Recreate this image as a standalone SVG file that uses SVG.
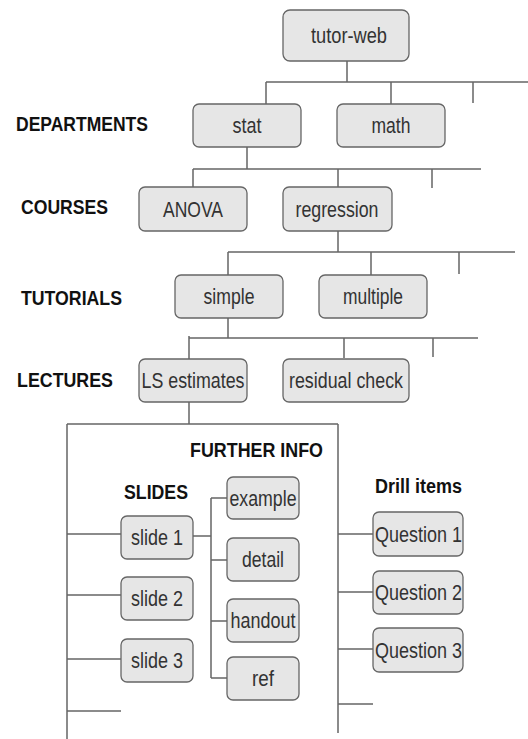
<svg xmlns="http://www.w3.org/2000/svg" width="528" height="739" viewBox="0 0 528 739">
<style>
.bg{fill:#ffffff}
.box{fill:#e6e6e6;stroke:#666666;stroke-width:1.3}
.t{font-family:"Liberation Sans",Arial,sans-serif;font-size:21.5px;fill:#333333;text-anchor:middle}
.lab{font-family:"Liberation Sans",Arial,sans-serif;font-size:19.5px;font-weight:bold;fill:#111111}
.ln{stroke:#666666;stroke-width:1.5;fill:none}
</style>
<rect class="bg" x="0" y="0" width="528" height="739"/>
<g id="connectors">
<path class="ln" d="M347 61V82M266 82H528M266 82V104M391 82V104M473 82V103"/>
<path class="ln" d="M247 147V169M193 169H481M193 169V187M338 169V187M432 169V188"/>
<path class="ln" d="M338 231V252M228 252H515M228 252V275M371 252V275M459 252V274"/>
<path class="ln" d="M228 318V338M189 338H478M189 336V359M344 338V358M433 338V357"/>
<path class="ln" d="M189 402V424M67 424H338M67 424V739M338 424V733"/>
<path class="ln" d="M67 534H121M67 595H121M67 659H121M67 711H121"/>
<path class="ln" d="M193 536H211M211 498V678M211 498H227M211 560H227M211 621H227M211 678H227"/>
<path class="ln" d="M338 534H373M338 592H373M338 649H373M338 704H373"/>
</g>
<g id="labels">
<text class="lab" x="16" y="131" textLength="132" lengthAdjust="spacingAndGlyphs">DEPARTMENTS</text>
<text class="lab" x="21" y="214" textLength="87" lengthAdjust="spacingAndGlyphs">COURSES</text>
<text class="lab" x="21" y="305" textLength="101" lengthAdjust="spacingAndGlyphs">TUTORIALS</text>
<text class="lab" x="17" y="387" textLength="96" lengthAdjust="spacingAndGlyphs">LECTURES</text>
<text class="lab" x="190" y="457" textLength="133" lengthAdjust="spacingAndGlyphs">FURTHER INFO</text>
<text class="lab" x="124" y="499" textLength="64" lengthAdjust="spacingAndGlyphs">SLIDES</text>
<text class="lab" x="375" y="493" textLength="87" lengthAdjust="spacingAndGlyphs">Drill items</text>
</g>
<g id="tutor-web"><rect class="box" x="283" y="10" width="126" height="51" rx="7"/><text class="t" x="349" y="43" textLength="76" lengthAdjust="spacingAndGlyphs">tutor-web</text></g>
<g id="stat"><rect class="box" x="193" y="104" width="108" height="43" rx="6"/><text class="t" x="247" y="133" textLength="29" lengthAdjust="spacingAndGlyphs">stat</text></g>
<g id="math"><rect class="box" x="337" y="104" width="108" height="43" rx="6"/><text class="t" x="391" y="133" textLength="39" lengthAdjust="spacingAndGlyphs">math</text></g>
<g id="anova"><rect class="box" x="139" y="187" width="108" height="44" rx="6"/><text class="t" x="193" y="216.5" textLength="60" lengthAdjust="spacingAndGlyphs">ANOVA</text></g>
<g id="regression"><rect class="box" x="283" y="187" width="109" height="44" rx="6"/><text class="t" x="337" y="216.5" textLength="83" lengthAdjust="spacingAndGlyphs">regression</text></g>
<g id="simple"><rect class="box" x="175" y="275" width="108" height="43" rx="6"/><text class="t" x="229" y="304" textLength="51" lengthAdjust="spacingAndGlyphs">simple</text></g>
<g id="multiple"><rect class="box" x="319" y="275" width="108" height="43" rx="6"/><text class="t" x="373" y="304" textLength="60" lengthAdjust="spacingAndGlyphs">multiple</text></g>
<g id="ls-estimates"><rect class="box" x="139" y="359" width="108" height="43" rx="6"/><text class="t" x="193" y="388" textLength="103" lengthAdjust="spacingAndGlyphs">LS estimates</text></g>
<g id="residual-check"><rect class="box" x="283" y="359" width="126" height="43" rx="6"/><text class="t" x="346" y="388" textLength="114" lengthAdjust="spacingAndGlyphs">residual check</text></g>
<g id="slide1"><rect class="box" x="121" y="516" width="72" height="43" rx="6"/><text class="t" x="157" y="545" textLength="52" lengthAdjust="spacingAndGlyphs">slide 1</text></g>
<g id="slide2"><rect class="box" x="121" y="577" width="72" height="43" rx="6"/><text class="t" x="157" y="606" textLength="52" lengthAdjust="spacingAndGlyphs">slide 2</text></g>
<g id="slide3"><rect class="box" x="121" y="639" width="72" height="43" rx="6"/><text class="t" x="157" y="668" textLength="52" lengthAdjust="spacingAndGlyphs">slide 3</text></g>
<g id="example"><rect class="box" x="227" y="477" width="72" height="42" rx="6"/><text class="t" x="263" y="505.5" textLength="67" lengthAdjust="spacingAndGlyphs">example</text></g>
<g id="detail"><rect class="box" x="227" y="538" width="72" height="43" rx="6"/><text class="t" x="263" y="567" textLength="42" lengthAdjust="spacingAndGlyphs">detail</text></g>
<g id="handout"><rect class="box" x="227" y="599" width="72" height="43" rx="6"/><text class="t" x="263" y="628" textLength="65" lengthAdjust="spacingAndGlyphs">handout</text></g>
<g id="ref"><rect class="box" x="227" y="657" width="72" height="43" rx="6"/><text class="t" x="263" y="686" textLength="22" lengthAdjust="spacingAndGlyphs">ref</text></g>
<g id="question1"><rect class="box" x="373" y="512" width="90" height="44" rx="6"/><text class="t" x="418.5" y="541.5" textLength="87" lengthAdjust="spacingAndGlyphs">Question 1</text></g>
<g id="question2"><rect class="box" x="373" y="571" width="90" height="43" rx="6"/><text class="t" x="418.5" y="600" textLength="87" lengthAdjust="spacingAndGlyphs">Question 2</text></g>
<g id="question3"><rect class="box" x="373" y="628" width="90" height="44" rx="6"/><text class="t" x="418.5" y="657.5" textLength="87" lengthAdjust="spacingAndGlyphs">Question 3</text></g>
</svg>
